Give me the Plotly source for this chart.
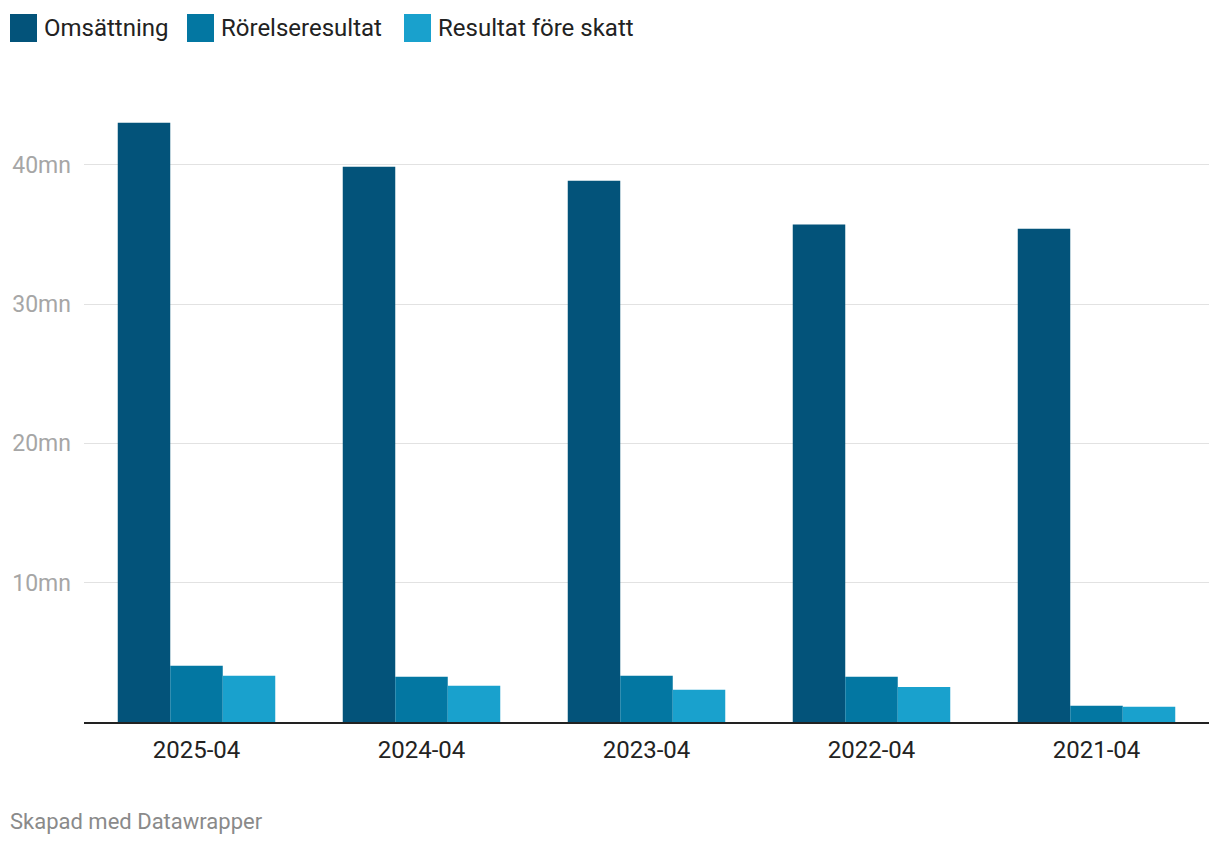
import plotly.graph_objects as go

categories = ["2025-04", "2024-04", "2023-04", "2022-04", "2021-04"]
series_names = ["Omsättning", "Rörelseresultat", "Resultat före skatt"]
omsattning = [43.0, 39.85, 38.85, 35.7, 35.4]
rorelseresultat = [4.03, 3.24, 3.32, 3.24, 1.16]
resultat_fore_skatt = [3.32, 2.60, 2.31, 2.52, 1.09]
y_ticks = [10, 20, 30, 40]
y_tick_labels = ["10mn", "20mn", "30mn", "40mn"]
colors = ["#03537a", "#0377a2", "#19a1cd"]

W, H = 1220, 844
ML, MR, MT, MB = 84, 11, 95, 122
PW = W - ML - MR
PH = H - MT - MB

fig = go.Figure()
for name, vals, col in zip(series_names, [omsattning, rorelseresultat, resultat_fore_skatt], colors):
    fig.add_trace(go.Bar(x=categories, y=vals, name=name, marker=dict(color=col, line=dict(width=0)),
                         showlegend=False, hovertemplate="%{x}: %{y}mn<extra>" + name + "</extra>"))

# custom legend (large squares like Datawrapper)
def px_x(p):
    return (p - ML) / PW

def px_y(p):
    return 1 - (p - MT) / PH

leg_x = [10, 187, 404]
for i, (name, col) in enumerate(zip(series_names, colors)):
    x0 = leg_x[i]
    fig.add_shape(type="rect", xref="paper", yref="paper",
                  x0=px_x(x0), x1=px_x(x0 + 27), y0=px_y(14), y1=px_y(42),
                  fillcolor=col, line=dict(width=0))
    fig.add_annotation(text=name, xref="paper", yref="paper", x=px_x(x0 + 32), y=px_y(28),
                       xanchor="left", yanchor="middle", showarrow=False,
                       font=dict(family="Roboto", size=24, color="#222222"))

fig.add_annotation(text="Skapad med Datawrapper", xref="paper", yref="paper",
                   x=px_x(8), y=px_y(821), xanchor="left", yanchor="middle", showarrow=False,
                   font=dict(family="Roboto", size=22, color="#8a8a8a"))

fig.update_layout(
    width=W, height=H,
    margin=dict(l=ML, r=MR, t=MT, b=MB),
    barmode="group", bargap=0.3, bargroupgap=0,
    plot_bgcolor="white", paper_bgcolor="white",
    font=dict(family="Roboto", color="#222222"),
    xaxis=dict(type="category", showgrid=False, showline=True, linecolor="#222222", linewidth=2,
               tickfont=dict(size=24, color="#222222"), ticks="", ticklabelstandoff=5),
    yaxis=dict(range=[0, 45], tickvals=y_ticks, ticktext=y_tick_labels, showgrid=True,
               gridcolor="#e2e2e2", gridwidth=1, zeroline=False, showline=False,
               tickfont=dict(size=23, color="#a6a6a6"), ticks="", ticklabelstandoff=12),
)

fig.write_html("out.html", config={"displayModeBar": False},
               post_script="document.body.style.margin='0';document.body.style.overflow='hidden';")
